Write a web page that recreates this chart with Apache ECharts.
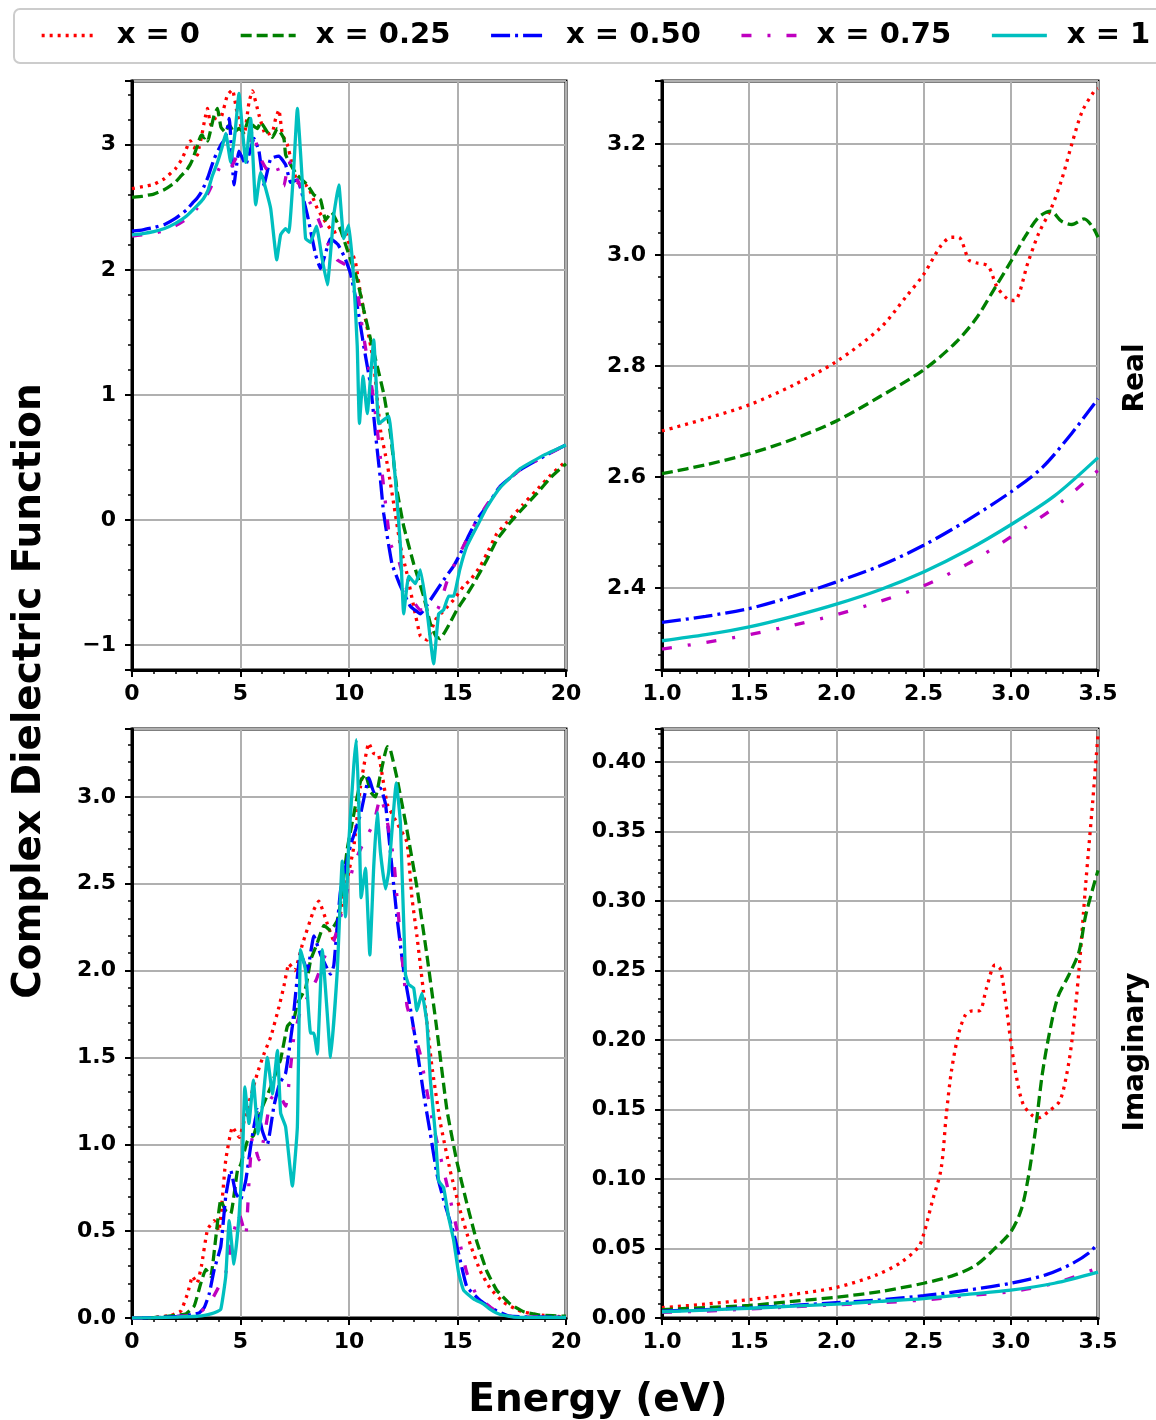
<!DOCTYPE html>
<html><head><meta charset="utf-8">
<script src="https://cdn.jsdelivr.net/npm/echarts@6/dist/echarts.min.js"></script>
<style>html,body{margin:0;padding:0;background:#fff}#c{width:1156px;height:1420px}</style>
</head><body><div id="c"></div>
<script>
// ---------- labels ----------
const seriesNames = ['x = 0', 'x = 0.25', 'x = 0.50', 'x = 0.75', 'x = 1'];
const axisTitleY = 'Complex Dielectric Function';
const axisTitleX = 'Energy (eV)';
const rowTitles = ['Real', 'Imaginary'];

// ---------- Real part, full range (E, value) ----------
const re_x0 = [[0,2.65],[0.5,2.665],[1,2.683],[1.5,2.73],[2,2.808],[2.3,2.885],[2.5,2.965],[2.62,3.02],[2.7,3.032],[2.78,2.99],[2.87,2.98],[2.93,2.94],[3.02,2.918],[3.1,2.988],[3.2,3.06],[3.35,3.2],[3.48,3.29],[3.63,3.16],[3.8,3.2],[3.94,3.26],[4.1,3.22],[4.4,3.4],[4.63,3.44],[4.86,3.24],[5.17,3.08],[5.39,3.34],[5.55,3.43],[5.85,3.24],[6.16,3.08],[6.47,3.1],[6.62,3.21],[6.77,3.28],[6.93,3.08],[7.16,3.0],[7.39,2.84],[7.62,2.7],[8.0,2.68],[8.23,2.62],[8.54,2.49],[9.0,2.36],[9.3,2.3],[9.76,2.33],[10.07,2.17],[10.3,2.06],[10.53,1.81],[11.0,1.39],[11.14,1.25],[11.45,0.72],[11.76,0.45],[12.06,0.13],[12.37,-0.21],[12.67,-0.43],[12.98,-0.69],[13.29,-0.93],[13.59,-0.96],[13.98,-0.8],[14.4,-0.72],[14.82,-0.64],[15.28,-0.53],[15.59,-0.48],[16.05,-0.37],[16.35,-0.27],[16.81,-0.11],[17.43,0.01],[18.0,0.12],[18.65,0.24],[19.3,0.36],[20,0.47]];
const re_x025 = [[0,2.58],[0.5,2.59],[1,2.606],[1.5,2.642],[2,2.701],[2.27,2.753],[2.5,2.793],[2.68,2.841],[2.8,2.885],[2.9,2.936],[3.0,2.988],[3.08,3.032],[3.16,3.068],[3.23,3.079],[3.29,3.061],[3.35,3.055],[3.42,3.065],[3.5,3.03],[3.6,3.1],[3.79,3.24],[3.94,3.29],[4.1,3.14],[4.3,3.1],[4.48,3.16],[4.7,3.1],[4.93,3.13],[5.15,3.1],[5.39,3.21],[5.6,3.15],[5.78,3.13],[5.93,3.18],[6.24,3.1],[6.47,3.06],[6.7,3.13],[7.0,3.05],[7.08,2.92],[7.31,2.84],[7.6,2.76],[8.08,2.68],[8.38,2.6],[8.69,2.56],[8.92,2.4],[9.2,2.46],[9.61,2.32],[9.92,2.16],[10.38,1.92],[10.68,1.68],[11.0,1.44],[11.3,1.23],[11.6,1.01],[11.91,0.69],[12.21,0.24],[12.52,-0.05],[12.98,-0.35],[13.44,-0.61],[13.75,-0.83],[14.0,-0.93],[14.2,-0.95],[14.6,-0.84],[14.97,-0.72],[15.35,-0.62],[15.74,-0.51],[16.35,-0.32],[16.81,-0.16],[17.43,-0.02],[18.0,0.09],[18.65,0.21],[19.3,0.34],[20,0.45]];
const re_x050 = [[0,2.31],[0.5,2.32],[1,2.338],[1.5,2.363],[2,2.411],[2.5,2.477],[2.78,2.532],[3.0,2.573],[3.18,2.617],[3.35,2.679],[3.5,2.741],[3.79,2.89],[4.1,3.0],[4.3,3.05],[4.48,3.21],[4.7,2.68],[4.93,2.95],[5.24,2.84],[5.62,3.05],[5.85,2.95],[6.08,2.68],[6.39,2.89],[6.77,2.91],[7.08,2.84],[7.31,2.7],[7.62,2.72],[8.08,2.44],[8.46,2.12],[8.69,2.01],[9.15,2.25],[9.5,2.2],[9.8,2.1],[10.07,1.97],[10.38,1.71],[10.68,1.39],[11.0,1.07],[11.22,0.69],[11.45,0.32],[11.6,0.05],[11.98,-0.35],[12.37,-0.53],[12.83,-0.69],[13.29,-0.75],[13.75,-0.64],[14.36,-0.48],[14.82,-0.37],[15.13,-0.27],[15.5,-0.13],[15.89,0.0],[16.35,0.11],[16.97,0.27],[17.89,0.4],[19.0,0.51],[20,0.6]];
const re_x075 = [[0,2.27],[0.5,2.28],[1,2.29],[1.5,2.316],[2,2.352],[2.5,2.404],[3.0,2.492],[3.27,2.547],[3.5,2.612],[3.8,2.72],[4.09,2.83],[4.5,2.8],[4.86,2.91],[5.2,2.85],[5.55,3.12],[5.9,2.9],[6.24,2.8],[6.6,2.85],[7.0,2.67],[7.23,2.87],[7.6,2.72],[8.23,2.53],[8.6,2.4],[9.07,2.19],[9.46,2.08],[9.92,2.03],[10.38,1.84],[10.6,1.55],[11.14,0.96],[11.53,0.37],[11.91,-0.19],[12.3,-0.33],[12.67,-0.56],[13.29,-0.72],[14.05,-0.72],[14.5,-0.5],[14.82,-0.37],[15.3,-0.2],[15.74,-0.05],[16.35,0.12],[17.0,0.27],[17.89,0.4],[19,0.51],[20,0.6]];
const re_x1 = [[0,2.28],[0.5,2.29],[1,2.305],[1.5,2.33],[2,2.371],[2.5,2.429],[3.0,2.514],[3.29,2.569],[3.5,2.635],[3.7,2.75],[3.94,2.86],[4.15,2.98],[4.32,3.09],[4.55,2.86],[4.75,3.1],[4.93,3.41],[5.1,3.1],[5.24,2.86],[5.47,3.21],[5.7,2.52],[5.93,2.78],[6.08,2.7],[6.39,2.49],[6.67,2.08],[6.85,2.28],[7.08,2.33],[7.23,2.3],[7.45,2.8],[7.62,3.29],[7.85,2.7],[8.0,2.25],[8.23,2.22],[8.5,2.35],[8.75,2.1],[9.0,1.88],[9.3,2.44],[9.53,2.68],[9.76,2.25],[9.99,2.36],[10.22,1.92],[10.38,1.39],[10.48,0.77],[10.65,1.15],[10.84,0.85],[11.14,1.44],[11.37,0.77],[11.6,0.8],[11.83,0.83],[12.14,0.32],[12.37,-0.21],[12.52,-0.75],[12.75,-0.45],[13.06,-0.51],[13.29,-0.4],[13.59,-0.72],[13.9,-1.15],[14.13,-0.75],[14.36,-0.72],[14.59,-0.61],[14.82,-0.61],[15.1,-0.4],[15.43,-0.21],[16.05,0.0],[16.35,0.1],[16.97,0.26],[17.89,0.41],[19,0.52],[20,0.6]];

// ---------- Imaginary part, full range ----------
const im_x0 = [[0,0.0],[1,0.003],[1.8,0.015],[2.25,0.04],[2.56,0.14],[2.79,0.24],[3.0,0.2],[3.2,0.3],[3.48,0.51],[3.79,0.56],[4.0,0.5],[4.32,0.91],[4.63,1.1],[4.94,1.04],[5.3,1.2],[5.78,1.41],[6.08,1.52],[6.4,1.62],[6.77,1.79],[7.0,1.91],[7.23,2.04],[7.5,2.0],[7.85,2.15],[8.38,2.35],[8.61,2.4],[9.0,2.27],[9.3,2.17],[9.91,2.52],[10.22,2.71],[10.53,3.06],[10.91,3.31],[11.14,3.25],[11.37,3.24],[11.76,2.96],[12.21,2.85],[12.67,2.74],[12.9,2.42],[13.13,2.2],[13.44,1.87],[13.82,1.45],[14.2,1.13],[14.66,0.85],[15.12,0.62],[15.6,0.42],[16.05,0.27],[16.51,0.17],[17.12,0.09],[17.89,0.04],[18.6,0.02],[20,0.005]];
const im_x025 = [[0,0],[1,0.002],[2,0.015],[2.5,0.025],[2.87,0.07],[3.17,0.2],[3.4,0.28],[3.63,0.24],[3.85,0.45],[4.09,0.68],[4.3,0.62],[4.55,0.6],[4.86,0.85],[5.0,0.88],[5.32,1.02],[5.6,1.05],[5.93,1.19],[6.39,1.33],[6.85,1.49],[7.16,1.68],[7.46,1.72],[7.62,1.81],[8.0,1.9],[8.23,2.06],[8.54,2.16],[8.85,2.26],[9.15,2.23],[9.46,2.29],[9.61,2.39],[9.92,2.7],[10.22,2.9],[10.53,3.09],[10.76,3.13],[10.99,3.03],[11.22,3.0],[11.45,3.13],[11.76,3.29],[11.91,3.27],[12.21,3.11],[12.67,2.81],[13.13,2.48],[13.59,2.09],[14.05,1.66],[14.51,1.2],[14.97,0.9],[15.43,0.66],[15.89,0.44],[16.35,0.27],[16.81,0.16],[17.43,0.08],[18.05,0.036],[18.8,0.017],[20,0.01]];
const im_x050 = [[0,0],[1,0.002],[2,0.008],[2.8,0.02],[3.1,0.03],[3.33,0.06],[3.56,0.14],[3.79,0.28],[4.09,0.41],[4.32,0.7],[4.55,0.85],[4.78,0.72],[5.0,0.68],[5.24,0.79],[5.47,0.99],[5.78,1.2],[6.0,1.08],[6.24,1.0],[6.54,1.22],[6.8,1.35],[7.08,1.41],[7.39,1.68],[7.77,2.1],[8.08,2.0],[8.38,2.2],[8.7,2.09],[9.15,1.98],[9.3,2.03],[9.61,2.46],[10.07,2.72],[10.53,2.9],[10.92,3.11],[11.14,3.03],[11.45,3.05],[11.68,2.96],[11.91,2.68],[12.21,2.31],[12.52,2.0],[12.83,1.78],[13.13,1.55],[13.44,1.29],[13.75,1.06],[14.05,0.83],[14.36,0.68],[14.82,0.49],[15.13,0.33],[15.43,0.18],[16.05,0.1],[16.66,0.05],[17.4,0.01],[20,0.004]];
const im_x075 = [[0,0],[1,0.002],[2,0.008],[3,0.02],[3.56,0.08],[4.0,0.18],[4.32,0.26],[4.6,0.45],[4.94,0.6],[5.24,0.47],[5.39,0.78],[5.55,1.04],[5.85,0.91],[6.1,1.05],[6.39,1.26],[6.7,1.3],[7.08,1.22],[7.46,1.62],[7.77,1.77],[8.1,1.85],[8.5,1.95],[9.0,2.12],[9.3,2.17],[9.7,2.35],[10.22,2.61],[10.68,2.74],[11.14,2.85],[11.45,3.0],[11.7,2.9],[12.06,2.64],[12.37,2.18],[12.67,1.8],[13.0,1.65],[13.28,1.52],[13.6,1.3],[13.9,1.1],[14.51,0.77],[14.97,0.51],[15.43,0.26],[15.89,0.13],[16.66,0.05],[17.4,0.01],[20,0.004]];
const im_x1 = [[0,0],[1,0.002],[2,0.005],[3,0.01],[3.5,0.02],[3.8,0.03],[4.09,0.05],[4.32,0.24],[4.48,0.56],[4.7,0.31],[4.93,0.58],[5.09,0.91],[5.2,1.33],[5.39,1.12],[5.59,1.37],[5.81,1.06],[6.01,1.22],[6.24,1.5],[6.47,1.29],[6.7,1.54],[6.85,1.18],[7.08,1.1],[7.39,0.76],[7.62,1.1],[7.77,2.12],[8.0,2.0],[8.23,1.64],[8.38,1.64],[8.54,1.52],[8.77,2.12],[9.0,1.75],[9.15,1.5],[9.46,2.0],[9.69,2.63],[9.84,2.31],[9.99,2.74],[10.22,3.18],[10.34,3.33],[10.45,2.96],[10.56,2.42],[10.76,2.59],[10.96,2.09],[11.14,2.6],[11.3,2.91],[11.45,2.68],[11.68,2.47],[11.83,2.57],[12.18,3.08],[12.37,2.85],[12.6,1.98],[12.75,1.92],[12.98,1.9],[13.13,1.77],[13.36,1.87],[13.59,1.7],[13.75,1.37],[13.98,1.06],[14.13,0.79],[14.36,0.75],[14.59,0.58],[14.82,0.45],[15.05,0.26],[15.28,0.16],[15.74,0.11],[16.2,0.08],[16.51,0.05],[16.97,0.02],[17.6,0.005],[20,0.003]];

// ---------- Real part, zoomed 1.0 - 3.5 eV ----------
const reZ_x0 = [[1.0,2.683],[1.25,2.705],[1.5,2.73],[1.75,2.765],[2.0,2.808],[2.25,2.868],[2.4,2.925],[2.5,2.965],[2.6,3.017],[2.66,3.032],[2.7,3.032],[2.76,2.991],[2.8,2.986],[2.87,2.98],[2.92,2.943],[2.98,2.921],[3.02,2.918],[3.1,2.988],[3.16,3.039],[3.23,3.083],[3.29,3.134],[3.35,3.2],[3.41,3.259],[3.48,3.296],[3.5,3.3]];
const reZ_x025 = [[1.0,2.606],[1.25,2.622],[1.5,2.642],[1.75,2.668],[2.0,2.701],[2.25,2.745],[2.5,2.793],[2.68,2.841],[2.8,2.885],[2.9,2.936],[3.0,2.988],[3.08,3.032],[3.16,3.068],[3.23,3.079],[3.29,3.061],[3.35,3.055],[3.42,3.065],[3.47,3.05],[3.5,3.032]];
const reZ_x050 = [[1.0,2.338],[1.25,2.349],[1.5,2.363],[1.75,2.385],[2.0,2.411],[2.25,2.44],[2.5,2.477],[2.75,2.522],[3.0,2.573],[3.18,2.617],[3.35,2.679],[3.5,2.741]];
const reZ_x075 = [[1.0,2.29],[1.25,2.302],[1.5,2.316],[1.75,2.333],[2.0,2.352],[2.25,2.376],[2.5,2.404],[2.75,2.443],[3.0,2.492],[3.25,2.545],[3.5,2.612]];
const reZ_x1 = [[1.0,2.305],[1.25,2.316],[1.5,2.33],[1.75,2.349],[2.0,2.371],[2.25,2.397],[2.5,2.429],[2.75,2.468],[3.0,2.514],[3.25,2.566],[3.5,2.635]];

// ---------- Imaginary part, zoomed 1.0 - 3.5 eV ----------
const imZ_x0 = [[1.0,0.0074],[1.25,0.01],[1.5,0.0132],[1.75,0.017],[2.0,0.022],[2.23,0.031],[2.37,0.04],[2.47,0.051],[2.5,0.06],[2.55,0.084],[2.6,0.107],[2.63,0.146],[2.66,0.178],[2.7,0.204],[2.74,0.218],[2.78,0.221],[2.82,0.221],[2.86,0.237],[2.91,0.254],[2.94,0.251],[2.97,0.228],[3.0,0.199],[3.03,0.175],[3.07,0.154],[3.12,0.146],[3.16,0.144],[3.22,0.149],[3.28,0.156],[3.32,0.175],[3.35,0.199],[3.39,0.249],[3.43,0.313],[3.47,0.372],[3.5,0.42]];
const imZ_x025 = [[1.0,0.006],[1.25,0.0075],[1.5,0.009],[1.75,0.012],[2.0,0.015],[2.25,0.019],[2.5,0.025],[2.68,0.031],[2.8,0.038],[2.9,0.049],[3.0,0.062],[3.06,0.078],[3.1,0.101],[3.14,0.134],[3.18,0.175],[3.22,0.204],[3.27,0.231],[3.33,0.246],[3.39,0.263],[3.43,0.29],[3.5,0.322]];
const imZ_x050 = [[1.0,0.005],[1.25,0.006],[1.5,0.0075],[1.75,0.009],[2.0,0.011],[2.25,0.013],[2.5,0.016],[2.75,0.02],[3.0,0.025],[3.2,0.031],[3.35,0.039],[3.45,0.047],[3.5,0.054]];
const imZ_x075 = [[1.0,0.004],[1.25,0.005],[1.5,0.0065],[1.75,0.008],[2.0,0.0095],[2.25,0.011],[2.5,0.013],[2.75,0.016],[3.0,0.019],[3.25,0.025],[3.5,0.036]];
const imZ_x1 = [[1.0,0.0045],[1.25,0.0057],[1.5,0.007],[1.75,0.0085],[2.0,0.01],[2.25,0.012],[2.5,0.014],[2.75,0.017],[3.0,0.02],[3.25,0.025],[3.5,0.033]];

// ---------- styling ----------
const colors = ['#ff0000', '#008000', '#0000ff', '#bf00bf', '#00bfbf'];
const dashes = [[3, 5], [11, 5], [19, 5, 3, 5], [10, 16, 3, 16], 'solid'];
const FONT = '"DejaVu Sans", "Liberation Sans", sans-serif';

const panels = [
  [re_x0, re_x025, re_x050, re_x075, re_x1],
  [reZ_x0, reZ_x025, reZ_x050, reZ_x075, reZ_x1],
  [im_x0, im_x025, im_x050, im_x075, im_x1],
  [imZ_x0, imZ_x025, imZ_x050, imZ_x075, imZ_x1]
];

const grids = [
  {left: 132, top: 81, width: 434, height: 589},
  {left: 662, top: 81, width: 436, height: 589},
  {left: 132, top: 729, width: 434, height: 589},
  {left: 662, top: 729, width: 436, height: 589}
].map(g => Object.assign(g, {show: true, borderColor: '#000', borderWidth: 3, backgroundColor: 'transparent', containLabel: false}));

function axisBase(gridIndex, min, max, fmt, isX) {
  return {
    type: 'value', gridIndex, min, max,
    axisLine: {show: true, onZero: false, lineStyle: {color: '#000', width: 3}},
    axisTick: {show: true, inside: false, length: 7, lineStyle: {color: '#000', width: 2}},
    minorTick: {show: true, splitNumber: 5, length: 4, lineStyle: {color: '#000', width: 1.5}},
    splitLine: {show: true, lineStyle: {color: '#b0b0b0', width: 2}},
    minorSplitLine: {show: false},
    axisLabel: {
      show: true, fontSize: 22, fontWeight: 'bold', color: '#000', fontFamily: FONT,
      margin: isX ? 13 : 16, formatter: fmt, showMinLabel: true, showMaxLabel: true, hideOverlap: false
    }
  };
}
const fmtInt = v => (v < 0 ? '\u2212' + Math.abs(v) : String(v));
const fmt1 = v => v.toFixed(1);
const fmt2 = v => v.toFixed(2);

const xAxes = [
  Object.assign(axisBase(0, 0, 20, fmtInt, true), {interval: 5}),
  Object.assign(axisBase(1, 1.0, 3.5, fmt1, true), {interval: 0.5}),
  Object.assign(axisBase(2, 0, 20, fmtInt, true), {interval: 5}),
  Object.assign(axisBase(3, 1.0, 3.5, fmt1, true), {interval: 0.5})
];
const yAxes = [
  Object.assign(axisBase(0, -1.2, 3.51, fmtInt, false), {minInterval: 1, maxInterval: 1}),
  Object.assign(axisBase(1, 2.2523, 3.3135, fmt1, false), {minInterval: 0.2, maxInterval: 0.2}),
  Object.assign(axisBase(2, 0, 3.391, fmt1, false), {minInterval: 0.5, maxInterval: 0.5}),
  Object.assign(axisBase(3, 0, 0.4237, fmt2, false), {minInterval: 0.05, maxInterval: 0.05})
];
yAxes.forEach(a => { a.axisLabel.showMinLabel = false; a.axisLabel.showMaxLabel = false; });
yAxes[2].axisLabel.showMinLabel = true;
yAxes[3].axisLabel.showMinLabel = true;

const series = [];
panels.forEach((set, p) => {
  set.forEach((data, i) => {
    series.push({
      type: 'line', name: seriesNames[i], xAxisIndex: p, yAxisIndex: p, data,
      symbol: 'none', showSymbol: false, smooth: (p % 2 === 0) ? 0.12 : 0.3,
      lineStyle: {color: colors[i], width: 3.3, type: dashes[i]},
      itemStyle: {color: colors[i]},
      emphasis: {disabled: true}, z: 3 + i
    });
  });
});

const chart = echarts.init(document.getElementById('c'), null, {renderer: 'canvas'});
chart.setOption({
  animation: false,
  backgroundColor: '#ffffff',
  textStyle: {fontFamily: FONT},
  grid: grids, xAxis: xAxes, yAxis: yAxes, series,
  legend: {
    show: true, left: 14, top: 9, width: 1400, orient: 'horizontal',
    data: seriesNames, itemWidth: 55, itemHeight: 14, itemGap: 39,
    padding: [12, 20, 13, 26],
    borderColor: '#cccccc', borderWidth: 2, borderRadius: 6, backgroundColor: '#ffffff',
    itemStyle: {color: 'rgba(0,0,0,0)', borderWidth: 0, opacity: 0},
    lineStyle: {width: 3.3},
    textStyle: {fontSize: 29, fontWeight: 'bold', color: '#000', fontFamily: FONT, padding: [0, 0, 0, 15]},
    selectedMode: false
  },
  graphic: [
    {type: 'text', x: 30, y: 691, rotation: Math.PI / 2,
     style: {text: axisTitleY, font: 'bold 39px ' + FONT, fill: '#000', align: 'center', verticalAlign: 'middle'}},
    {type: 'text', x: 598, y: 1401,
     style: {text: axisTitleX, font: 'bold 39px ' + FONT, fill: '#000', align: 'center', verticalAlign: 'middle'}},
    {type: 'text', x: 1136, y: 378, rotation: Math.PI / 2,
     style: {text: rowTitles[0], font: 'bold 28px ' + FONT, fill: '#000', align: 'center', verticalAlign: 'middle'}},
    {type: 'text', x: 1136, y: 1052, rotation: Math.PI / 2,
     style: {text: rowTitles[1], font: 'bold 28px ' + FONT, fill: '#000', align: 'center', verticalAlign: 'middle'}}
  ]
});
</script>
</body></html>
